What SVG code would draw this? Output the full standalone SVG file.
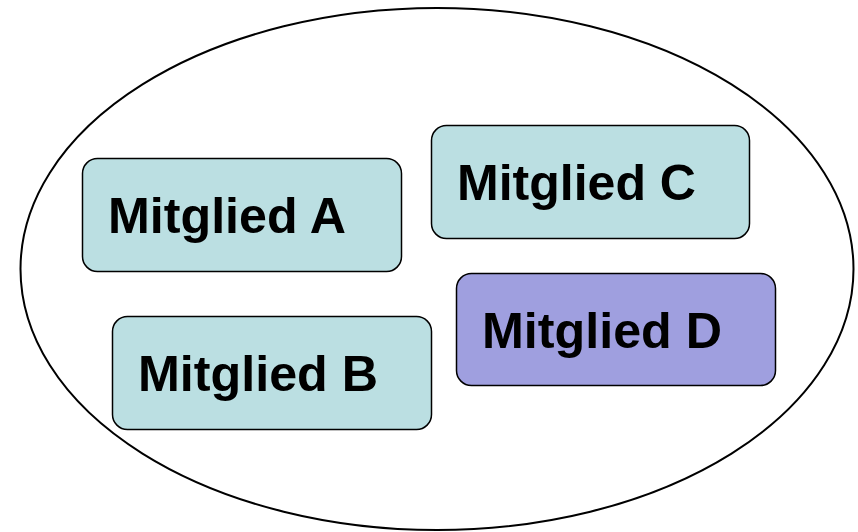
<svg xmlns="http://www.w3.org/2000/svg" width="858" height="532" viewBox="0 0 858 532">
<style>
.box{stroke:#000;stroke-width:1.5}
.t{fill:#bbdfe2}
.p{fill:#9f9fdf}
.lbl{font-family:"Liberation Sans",Arial,sans-serif;font-weight:bold;font-size:50px;fill:#000}
</style>
<rect width="858" height="532" fill="#fff"/>
<g id="group">
<ellipse cx="437" cy="269" rx="416.5" ry="261" fill="#fff" stroke="#000" stroke-width="2"/>
</g>
<g id="nodeA">
<rect class="box t" x="82.5" y="158.5" width="319" height="113" rx="15"/>
<text class="lbl" x="108" y="233" textLength="238" lengthAdjust="spacingAndGlyphs">Mitglied A</text>
</g>
<g id="nodeC">
<rect class="box t" x="431.5" y="125.5" width="318" height="113" rx="15"/>
<text class="lbl" x="457" y="200" textLength="239" lengthAdjust="spacingAndGlyphs">Mitglied C</text>
</g>
<g id="nodeB">
<rect class="box t" x="112.5" y="316.5" width="319" height="113" rx="15"/>
<text class="lbl" x="138" y="391" textLength="240" lengthAdjust="spacingAndGlyphs">Mitglied B</text>
</g>
<g id="nodeD">
<rect class="box p" x="456.5" y="273.5" width="319" height="112" rx="15"/>
<text class="lbl" x="482" y="348" textLength="240" lengthAdjust="spacingAndGlyphs">Mitglied D</text>
</g>
<g id="connectors"/>
</svg>
